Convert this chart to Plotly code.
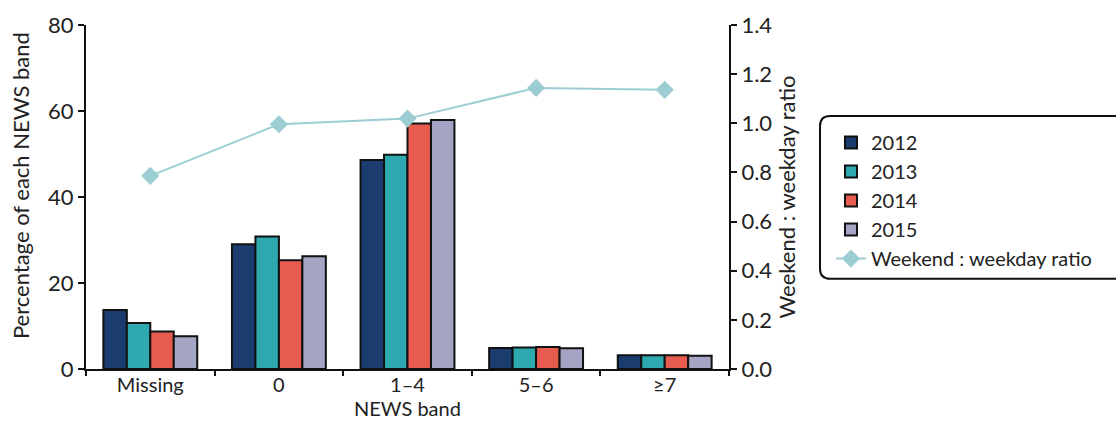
import plotly.graph_objects as go

categories = ["Missing", "0", "1–4", "5–6", "≥7"]
years = ["2012", "2013", "2014", "2015"]
pct_2012 = [13.7, 29.0, 48.6, 4.9, 3.2]
pct_2013 = [10.7, 30.8, 49.8, 5.0, 3.2]
pct_2014 = [8.7, 25.3, 57.1, 5.1, 3.2]
pct_2015 = [7.6, 26.2, 57.9, 4.8, 3.1]
ratio = [0.786, 0.996, 1.019, 1.144, 1.136]

colors = ["#1b3c6e", "#2ea9b0", "#e85c50", "#a4a5c5"]
series = [pct_2012, pct_2013, pct_2014, pct_2015]

fig = go.Figure()
for name, vals, col in zip(years, series, colors):
    fig.add_trace(go.Bar(x=categories, y=vals, name=name,
                         marker=dict(color=col, line=dict(color="#111111", width=2))))
fig.add_trace(go.Scatter(x=categories, y=ratio, name="Weekend : weekday ratio", yaxis="y2",
                         mode="lines+markers",
                         line=dict(color="#9ccdd3", width=2),
                         marker=dict(symbol="diamond", size=14, color="#9ccdd3")))

font = "Lato, 'Open Sans', sans-serif"
fs = 22
fig.update_layout(
    width=1116, height=421,
    margin=dict(l=86, r=387, t=25, b=52, autoexpand=False),
    paper_bgcolor="white", plot_bgcolor="white",
    font=dict(family=font, size=fs, color="#222222"),
    barmode="group", bargap=0.27, bargroupgap=0,
    showlegend=True,
    legend=dict(x=1.1586, xanchor="left", y=0.715, yanchor="top",
                font=dict(size=20), bgcolor="rgba(0,0,0,0)",
                tracegroupgap=0, itemwidth=30),
    xaxis=dict(showline=True, linecolor="#111111", linewidth=2,
               ticks="outside", tickcolor="#111111", ticklen=5, tickwidth=1.5,
               tickson="boundaries", range=[-0.5, 4.5], ticklabelstandoff=-3,
               tickfont=dict(size=20)),
    yaxis=dict(range=[0, 80], dtick=20, showline=True, linecolor="#111111", linewidth=2,
               ticks="outside", tickcolor="#111111", ticklen=6, tickwidth=1.5,
               showgrid=False, zeroline=False,
               tickfont=dict(size=fs)),
    yaxis2=dict(range=[0, 1.4], dtick=0.2, tickformat=".1f", overlaying="y", side="right",
                showline=True, linecolor="#111111", linewidth=2,
                ticks="outside", tickcolor="#111111", ticklen=6, tickwidth=1.5,
                showgrid=False, zeroline=False,
                title=dict(text="Weekend : weekday ratio", standoff=8, font=dict(size=fs)),
                tickfont=dict(size=fs)),
)

fig.add_annotation(text="NEWS band", xref="paper", yref="paper", x=0.5, y=-0.151,
                   xanchor="center", yanchor="bottom", showarrow=False,
                   font=dict(size=20), borderpad=0)
fig.add_annotation(text="Percentage of each NEWS band", xref="paper", yref="paper",
                   x=-0.101, y=0.532, xanchor="center", yanchor="middle", textangle=-90,
                   showarrow=False, font=dict(size=fs), borderpad=0)

# rounded legend frame
x0, x1, y0, y1 = 1.1415, 1.62, 0.262, 0.7355
rx, ry = 0.016, 0.03
path = (f"M {x0+rx},{y1} L {x1},{y1} L {x1},{y0} L {x0+rx},{y0} "
        f"Q {x0},{y0} {x0},{y0+ry} L {x0},{y1-ry} Q {x0},{y1} {x0+rx},{y1} Z")
fig.add_shape(type="path", path=path, xref="paper", yref="paper",
              line=dict(color="#111111", width=2))

fig.write_html("out.html", config={"displayModeBar": False},
               post_script="document.body.style.margin='0';document.body.style.overflow='hidden';")
